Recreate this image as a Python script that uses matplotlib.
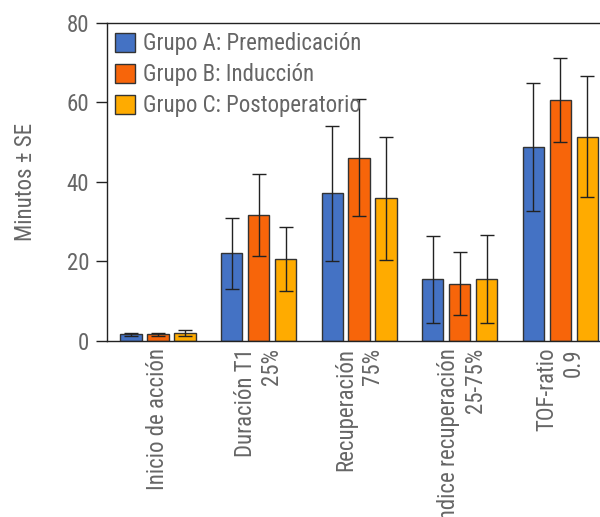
import matplotlib
matplotlib.use("Agg")
import matplotlib.pyplot as plt
import numpy as np

plt.rcParams['font.family'] = ['Roboto Condensed', 'Liberation Sans', 'DejaVu Sans']

categories = ['Inicio de acción', 'Duración T1\n25%', 'Recuperación\n75%',
              'Índice recuperación\n25-75%', 'TOF-ratio\n0.9']
groups = ['Grupo A: Premedicación', 'Grupo B: Inducción', 'Grupo C: Postoperatorio']
colors = ['#4472c4', '#f7650a', '#ffab00']

grupo_a = [1.7, 22.0, 37.1, 15.5, 48.8]
grupo_b = [1.7, 31.7, 46.1, 14.4, 60.6]
grupo_c = [2.0, 20.6, 35.9, 15.6, 51.4]
se_a = [0.4, 8.9, 17.0, 11.0, 16.1]
se_b = [0.4, 10.3, 14.7, 7.9, 10.5]
se_c = [0.7, 8.0, 15.5, 11.0, 15.3]

text_gray = '#666666'
fs = 16.5

fig = plt.figure(figsize=(6, 5.17), dpi=100)
# axes runs past the right edge, the reference is cropped there
ax = fig.add_axes([0.1788, 0.3404, 1.0183 - 0.1788, 0.956 - 0.3404])

x = np.arange(len(categories))
step = 0.268
width = 0.212
for i, (vals, errs) in enumerate([(grupo_a, se_a), (grupo_b, se_b), (grupo_c, se_c)]):
    ax.bar(x + (i - 1) * step, vals, width, yerr=errs, color=colors[i],
           edgecolor='#333333', linewidth=1.0, label=groups[i],
           error_kw=dict(ecolor='#222222', elinewidth=1.0, capsize=5, capthick=1.0))

ax.set_xlim(-0.504, len(categories) - 0.496)
ax.set_ylim(0, 80)
ax.set_yticks([0, 20, 40, 60, 80])
ax.tick_params(axis='y', length=8, width=1, color='#222222', labelsize=fs,
               labelcolor=text_gray, pad=5)
ax.set_xticks(x, categories, rotation=90, ha='center', va='top', multialignment='right')
ax.tick_params(axis='x', length=0, labelsize=fs, labelcolor=text_gray, pad=5)
for s in ax.spines.values():
    s.set_color('#222222')
    s.set_linewidth(1.0)

ax.set_ylabel('Minutos ± SE', fontsize=fs, color=text_gray, labelpad=21)

leg = ax.legend(loc='upper left', bbox_to_anchor=(0.015, 0.97), frameon=False,
                fontsize=fs, handlelength=0.9, handleheight=0.9, handletextpad=0.35,
                labelspacing=0.35, borderpad=0, borderaxespad=0)
for t in leg.get_texts():
    t.set_color(text_gray)

fig.savefig('out.png', dpi=100)
